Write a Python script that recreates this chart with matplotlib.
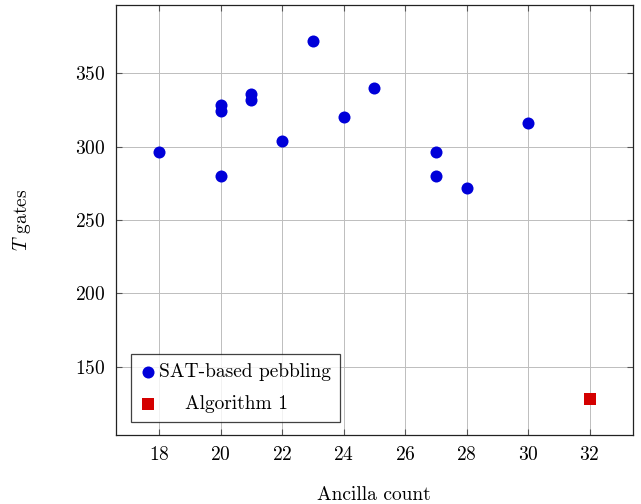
import matplotlib
matplotlib.use("Agg")
import matplotlib.pyplot as plt

# SAT-based pebbling results
sat_ancilla = [18, 20, 20, 20, 21, 21, 22, 23, 24, 25, 27, 27, 28, 30]
sat_tgates = [296, 280, 324, 328, 332, 336, 304, 372, 320, 340, 296, 280, 272, 316]

# Algorithm 1
alg_ancilla = [32]
alg_tgates = [128]

xticks = [18, 20, 22, 24, 26, 28, 30, 32]
yticks = [150, 200, 250, 300, 350]

plt.rcParams["font.family"] = ["cmr10", "DejaVu Serif"]
plt.rcParams["mathtext.fontset"] = "cm"
plt.rcParams["axes.formatter.use_mathtext"] = True
FS = 14

fig = plt.figure(figsize=(6.41, 5.04), dpi=100)
ax = fig.add_axes([0.181, 0.137, 0.806, 0.853])

ax.scatter(sat_ancilla, sat_tgates, s=75, marker="o", color="#0000d9",
           zorder=3, label="SAT-based pebbling", linewidths=0)
ax.scatter(alg_ancilla, alg_tgates, s=70, marker="s", color="#d40000",
           zorder=3, label="    Algorithm 1", linewidths=0)

ax.set_xlim(16.6, 33.4)
ax.set_ylim(103.6, 396.4)
ax.set_xticks(xticks)
ax.set_yticks(yticks)
ax.grid(True, color="#bdbdbd", linewidth=0.7)
ax.set_axisbelow(True)
ax.tick_params(direction="in", top=True, right=True, length=4,
               color="#555555", labelsize=FS, pad=8)
for sp in ax.spines.values():
    sp.set_linewidth(0.9)
    sp.set_color("#222222")

ax.set_xlabel("Ancilla count", fontsize=FS, labelpad=16)
ax.set_ylabel("$T$ gates", fontsize=FS, labelpad=30)

leg = ax.legend(loc="lower left", bbox_to_anchor=(0.029, 0.03), fontsize=FS,
                frameon=True, fancybox=False, edgecolor="#111111",
                handletextpad=0.2, handlelength=0.8, borderpad=0.45,
                labelspacing=0.75, borderaxespad=0)
leg.get_frame().set_linewidth(0.9)

fig.savefig("out.png", dpi=100)
